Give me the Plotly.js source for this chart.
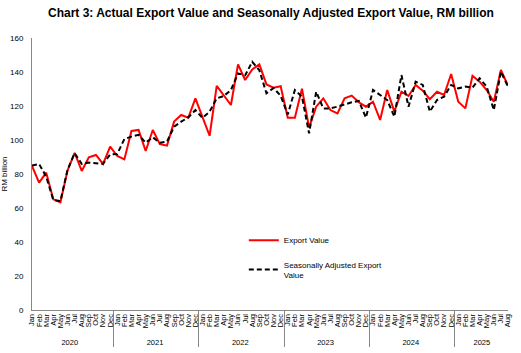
<!DOCTYPE html>
<html><head><meta charset="utf-8">
<script src="https://cdn.plot.ly/plotly-3.0.1.min.js"></script>
<style>body{margin:0;background:#fff}#c{width:521px;height:353px}</style>
</head><body><div id="c"></div>
<script>
const years = ["2020","2021","2022","2023","2024","2025"];
const monthNames = ["Jan","Feb","Mar","Apr","May","Jun","Jul","Aug","Sep","Oct","Nov","Dec"];
const monthsPerYear = [12,12,12,12,12,8];

const exportValue = [
  84.7, 74.9, 80.8, 65.1, 63.3, 82.0, 92.5, 81.8, 89.8, 91.2, 85.9, 96.1,
  90.6, 88.6, 105.3, 105.9, 93.5, 105.9, 97.6, 96.7, 110.8, 114.7, 113.1, 124.5,
  113.5, 102.5, 131.8, 126.5, 120.6, 144.5, 135.3, 141.5, 144.5, 132.7, 130.8, 131.6,
  113.1, 113.1, 130.2, 107.3, 119.6, 124.5, 117.6, 115.7, 124.5, 126.1, 122.2, 119.6,
  122.5, 111.8, 129.4, 116.7, 128.4, 125.9, 132.4, 129.0, 124.0, 128.4, 126.5, 138.8,
  122.5, 118.6, 137.8, 134.3, 129.4, 122.5, 141.2, 131.9
];
const seasonallyAdjusted = [
  85.0, 85.9, 78.4, 64.7, 64.1, 82.4, 92.2, 85.9, 86.7, 86.3, 86.0, 91.5,
  91.8, 100.5, 102.0, 103.0, 98.4, 101.6, 98.4, 99.0, 107.8, 110.8, 113.3, 117.6,
  113.0, 116.7, 124.5, 125.9, 129.4, 139.2, 138.0, 146.0, 141.0, 127.5, 130.6, 126.0,
  115.0, 129.4, 125.5, 103.9, 128.4, 118.6, 118.6, 119.6, 121.0, 122.2, 123.0, 113.2,
  129.4, 126.5, 123.5, 113.7, 138.2, 119.6, 134.3, 132.4, 116.7, 123.5, 125.5, 132.4,
  130.4, 131.4, 130.8, 136.3, 131.4, 117.6, 140.2, 131.4
];

const xYear = [], xMonth = [];
years.forEach((y, i) => {
  for (let m = 0; m < monthsPerYear[i]; m++) { xYear.push(y); xMonth.push(monthNames[m]); }
});

const font = "Liberation Sans, Arial, sans-serif";
const traces = [
  {x: [xYear, xMonth], y: exportValue, type: "scatter", mode: "lines",
   name: "Export Value", legendgroup: "a",
   line: {color: "#ff0000", width: 2}},
  {x: [xYear, xMonth], y: seasonallyAdjusted, type: "scatter", mode: "lines",
   name: "Seasonally Adjusted Export<br>Value", legendgroup: "b",
   line: {color: "#000000", width: 2, dash: "5px,3px"}}
];

const layout = {
  width: 521, height: 353,
  margin: {l: 32, r: 13, t: 38, b: 43},
  paper_bgcolor: "#fff", plot_bgcolor: "#fff",
  font: {family: font, size: 8, color: "#000"},
  title: {text: "<b>Chart 3: Actual Export Value and Seasonally Adjusted Export Value, RM billion</b>",
          font: {family: font, size: 12, color: "#000"}, x: 0.52, xanchor: "center", y: 0.965, yanchor: "middle"},
  xaxis: {type: "multicategory", showline: true, linecolor: "#888", linewidth: 1,
          showgrid: false, zeroline: false, ticks: "", tickangle: -90,
          tickmode: "linear", tick0: 0, dtick: 1,
          tickfont: {family: font, size: 7.5, color: "#000"},
          showdividers: true, dividercolor: "#888", dividerwidth: 1},
  yaxis: {range: [0, 160], dtick: 20, showline: true, linecolor: "#888", linewidth: 1,
          showgrid: false, zeroline: false, ticks: "", ticklabelstandoff: 6,
          tickfont: {family: font, size: 8, color: "#000"},
          title: {text: "RM billion", font: {family: font, size: 8, color: "#000"}, standoff: 4}},
  showlegend: true,
  legend: {x: 0.445, y: 0.31, xanchor: "left", yanchor: "top", bgcolor: "rgba(0,0,0,0)",
           font: {family: font, size: 8, color: "#000"}, tracegroupgap: 8, itemwidth: 30},
};

Plotly.newPlot("c", traces, layout, {displayModeBar: false, staticPlot: true});
</script></body></html>
